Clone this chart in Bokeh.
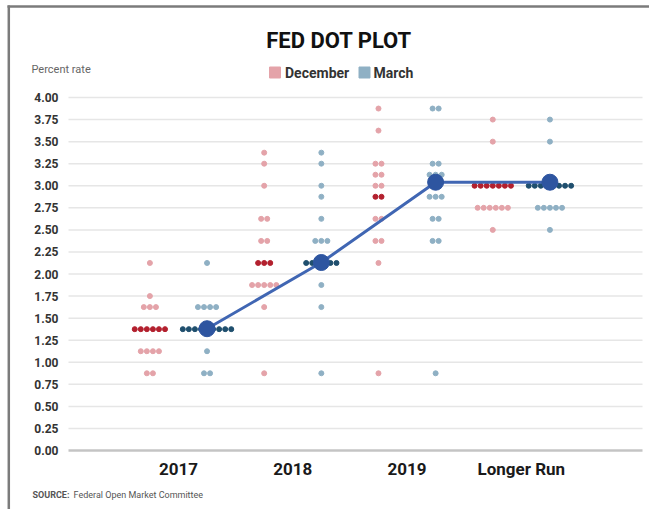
import numpy as np
from bokeh.plotting import figure
from bokeh.models import (FixedTicker, NumeralTickFormatter, Range1d, Label,
                          ColumnDataSource)
from bokeh.embed import file_html
from bokeh.resources import INLINE

# ---------------- data ----------------
categories = ["2017", "2018", "2019", "Longer Run"]
series = ["December", "March"]

dec_2017_rates = [0.875, 1.125, 1.375, 1.625, 1.75, 2.125]
dec_2017_counts = [2, 4, 6, 3, 1, 1]
mar_2017_rates = [0.875, 1.125, 1.375, 1.625, 2.125]
mar_2017_counts = [2, 1, 9, 4, 1]

dec_2018_rates = [0.875, 1.625, 1.875, 2.125, 2.375, 2.625, 3.0, 3.25, 3.375]
dec_2018_counts = [1, 1, 5, 3, 2, 2, 1, 1, 1]
mar_2018_rates = [0.875, 1.625, 1.875, 2.125, 2.375, 2.625, 2.875, 3.0, 3.25, 3.375]
mar_2018_counts = [1, 1, 1, 6, 3, 1, 1, 1, 1, 1]

dec_2019_rates = [0.875, 2.125, 2.375, 2.625, 2.875, 3.0, 3.125, 3.25, 3.625, 3.875]
dec_2019_counts = [1, 1, 2, 2, 2, 2, 2, 2, 1, 1]
mar_2019_rates = [0.875, 2.375, 2.625, 2.875, 3.0, 3.125, 3.25, 3.875]
mar_2019_counts = [1, 2, 2, 3, 2, 3, 2, 2]

dec_lr_rates = [2.5, 2.75, 3.0, 3.5, 3.75]
dec_lr_counts = [1, 6, 7, 1, 1]
mar_lr_rates = [2.5, 2.75, 3.0, 3.5, 3.75]
mar_lr_counts = [1, 5, 8, 1, 1]

# rows drawn in the darker shade (median rows)
dec_median_rows = [1.375, 2.125, 2.875, 3.0]
mar_median_rows = [1.375, 2.125, 3.0, 3.0]
# big connected median markers (March)
median_markers = [1.38, 2.13, 3.04, 3.04]

y_ticks = [0.0, 0.25, 0.5, 0.75, 1.0, 1.25, 1.5, 1.75, 2.0, 2.25, 2.5, 2.75,
           3.0, 3.25, 3.5, 3.75, 4.0]

# ---------------- styles ----------------
DEC_LIGHT = "#e4a3a9"
DEC_DARK = "#b3202e"
MAR_LIGHT = "#8fb0c4"
MAR_DARK = "#1f4f6e"
MEDIAN_BLUE = "#2e55a0"
LINE_BLUE = "#4066b3"
GRID = "#e6e6e6"
BORDER = "#7b7b7b"
FONT = "Roboto"

DOT_STEP = 0.053
SERIES_OFFSET = 0.25

# canvas pixel <-> data helpers (frame covers the whole canvas)
W, H = 649, 509
X0, SX = 0.038, 114.3      # data x at pixel 68, pixels per category
SY = 88.25                 # pixels per rate unit, rate 0 at pixel 450


def px_x(X):
    return X0 + (X - 68) / SX


def px_y(Y):
    return (450 - Y) / SY


cat_x = np.arange(1, len(categories) + 1, dtype=float)

dec_sets = [(dec_2017_rates, dec_2017_counts), (dec_2018_rates, dec_2018_counts),
            (dec_2019_rates, dec_2019_counts), (dec_lr_rates, dec_lr_counts)]
mar_sets = [(mar_2017_rates, mar_2017_counts), (mar_2018_rates, mar_2018_counts),
            (mar_2019_rates, mar_2019_counts), (mar_lr_rates, mar_lr_counts)]


def build(sets, medians, offset):
    lx, ly, dx, dy = [], [], [], []
    for cx, (rates, counts), med in zip(cat_x, sets, medians):
        center = cx + offset
        for r, c in zip(rates, counts):
            for i in range(c):
                x = center + (i - (c - 1) / 2) * DOT_STEP
                if r == med:
                    dx.append(x); dy.append(r)
                else:
                    lx.append(x); ly.append(r)
    return (ColumnDataSource(dict(x=lx, y=ly)), ColumnDataSource(dict(x=dx, y=dy)))


dec_light, dec_dark = build(dec_sets, dec_median_rows, -SERIES_OFFSET)
mar_light, mar_dark = build(mar_sets, mar_median_rows, SERIES_OFFSET)

# ---------------- figure ----------------
p = figure(width=W, height=H, title=None, toolbar_location=None,
           output_backend="svg",
           x_range=Range1d(px_x(0), px_x(W)), y_range=Range1d(px_y(H), px_y(0)),
           min_border=0)
p.outline_line_color = None
p.background_fill_color = "white"
p.border_fill_color = "white"
p.xgrid.visible = False
p.ygrid.visible = False

# gridlines over the plotting area
grid_left, grid_right = px_x(68), px_x(642)
gy = [t for t in y_ticks if t != 0]
p.segment(x0=[grid_left] * len(gy), x1=[grid_right] * len(gy), y0=gy, y1=gy,
          line_color=GRID, line_width=1.5)
p.segment(x0=[grid_left], x1=[grid_right], y0=[0.0], y1=[0.0],
          line_color="#c4c4c4", line_width=2.5)

# y axis drawn at the left edge of the plotting area
p.yaxis.fixed_location = grid_left
p.yaxis.ticker = FixedTicker(ticks=y_ticks)
p.yaxis.formatter = NumeralTickFormatter(format="0.00")
p.yaxis.axis_line_color = None
p.yaxis.major_tick_line_color = None
p.yaxis.minor_tick_line_color = None
p.yaxis.major_tick_out = 0
p.yaxis.major_tick_in = 0
p.yaxis.major_label_standoff = 10
p.yaxis.major_label_text_font = FONT
p.yaxis.major_label_text_font_style = "bold"
p.yaxis.major_label_text_font_size = "12px"
p.yaxis.major_label_text_color = "#333333"

# x axis drawn at rate 0
p.xaxis.fixed_location = 0.0
p.xaxis.ticker = FixedTicker(ticks=list(cat_x))
p.xaxis.major_label_overrides = {float(x): c for x, c in zip(cat_x, categories)}
p.xaxis.axis_line_color = None
p.xaxis.major_tick_line_color = None
p.xaxis.minor_tick_line_color = None
p.xaxis.major_tick_out = 0
p.xaxis.major_tick_in = 0
p.xaxis.major_label_standoff = 8
p.xaxis.major_label_text_font = FONT
p.xaxis.major_label_text_font_style = "bold"
p.xaxis.major_label_text_font_size = "17px"
p.xaxis.major_label_text_color = "#1a1a1a"

# dots
p.scatter("x", "y", source=dec_light, size=5, color=DEC_LIGHT)
p.scatter("x", "y", source=mar_light, size=5, color=MAR_LIGHT)
p.scatter("x", "y", source=dec_dark, size=5, color=DEC_DARK)
p.scatter("x", "y", source=mar_dark, size=5, color=MAR_DARK)

# median line + big dots
med_x = list(cat_x + SERIES_OFFSET)
p.line(med_x, median_markers, line_color=LINE_BLUE, line_width=3)
p.scatter(med_x, median_markers, size=16, color=MEDIAN_BLUE)

# legend swatches + labels
p.scatter([px_x(274.5), px_x(364)], [px_y(72), px_y(72)], marker="square",
          size=11, color=[DEC_LIGHT, MAR_LIGHT])
for X, txt in zip([284.5, 373], series):
    p.add_layout(Label(x=px_x(X), y=px_y(72.5), text=txt, text_align="left",
                       text_baseline="middle", text_font=FONT,
                       text_font_style="bold", text_font_size="14px",
                       text_color="#333333"))

# texts
p.add_layout(Label(x=px_x(338.5), y=px_y(40), text="FED DOT PLOT", text_align="center",
                   text_baseline="middle", text_font=FONT,
                   text_font_style="bold", text_font_size="22px", text_color="#111111"))
p.add_layout(Label(x=px_x(31), y=px_y(69), text="Percent rate", text_align="left",
                   text_baseline="middle", text_font=FONT,
                   text_font_size="11px", text_color="#666666"))
p.add_layout(Label(x=px_x(32), y=px_y(494), text="SOURCE:", text_align="left",
                   text_baseline="middle", text_font=FONT,
                   text_font_style="bold", text_font_size="9px", text_color="#555555"))
p.add_layout(Label(x=px_x(73), y=px_y(494), text="Federal Open Market Committee",
                   text_align="left", text_baseline="middle", text_font=FONT,
                   text_font_size="9px", text_color="#555555"))

# outer frame lines (left and top)
p.segment(x0=[px_x(8.3), px_x(7)], x1=[px_x(8.3), px_x(W)],
          y0=[px_y(H), px_y(6)], y1=[px_y(5), px_y(6)],
          line_color=BORDER, line_width=2.5)

open("out.html", "w").write(file_html(p, INLINE))
